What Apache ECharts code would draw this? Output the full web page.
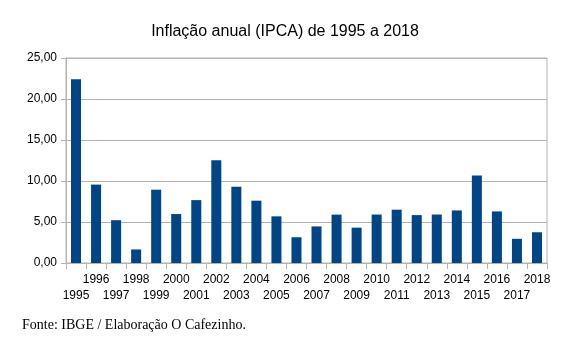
<!DOCTYPE html>
<html>
<head>
<meta charset="utf-8">
<script src="https://cdn.jsdelivr.net/npm/echarts@6/dist/echarts.min.js"></script>
<style>
  html, body { margin: 0; padding: 0; background: #fff; }
  #chart { width: 570px; height: 345px; }
</style>
</head>
<body>
<div id="chart"></div>
<script>
// Annual IPCA inflation (%), 1995–2018
const years = ['1995','1996','1997','1998','1999','2000','2001','2002','2003','2004','2005','2006',
               '2007','2008','2009','2010','2011','2012','2013','2014','2015','2016','2017','2018'];
const ipca = [22.41, 9.56, 5.22, 1.65, 8.94, 5.97, 7.67, 12.53, 9.30, 7.60, 5.69, 3.14,
              4.46, 5.90, 4.31, 5.91, 6.50, 5.84, 5.91, 6.41, 10.67, 6.29, 2.95, 3.75];
const yTicks = { min: 0, max: 25, step: 5 };

const titleText = 'Inflação anual (IPCA) de 1995 a 2018';
const sourceText = 'Fonte: IBGE / Elaboração O Cafezinho.';

const chart = echarts.init(document.getElementById('chart'), null, { renderer: 'canvas' });
const fmt = v => v.toFixed(2).replace('.', ',');

chart.setOption({
  animation: false,
  backgroundColor: '#fff',
  title: {
    text: titleText,
    left: 'center',
    top: 19,
    textStyle: { fontFamily: 'Liberation Sans, Arial, sans-serif', fontSize: 16, fontWeight: 'normal', color: '#000' }
  },
  grid: {
    left: 66, right: 23, top: 58, bottom: 82,
    show: true, borderColor: '#b3b3b3', borderWidth: 1
  },
  xAxis: {
    type: 'category',
    data: years,
    axisLine: { lineStyle: { color: '#b3b3b3' } },
    axisTick: { show: true, length: 6, alignWithLabel: false, lineStyle: { color: '#b3b3b3' } },
    axisLabel: {
      interval: 0,
      margin: 9,
      color: '#000',
      fontFamily: 'Liberation Sans, Arial, sans-serif',
      fontSize: 12,
      lineHeight: 16,
      formatter: (v, i) => (i % 2 === 0 ? '\n' + v : v)
    }
  },
  yAxis: {
    type: 'value',
    min: yTicks.min, max: yTicks.max, interval: yTicks.step,
    axisLine: { show: true, lineStyle: { color: '#b3b3b3' } },
    axisTick: { show: true, length: 5, lineStyle: { color: '#b3b3b3' } },
    splitLine: { lineStyle: { color: '#b3b3b3' } },
    axisLabel: {
      margin: 9,
      color: '#000',
      fontFamily: 'Liberation Sans, Arial, sans-serif',
      fontSize: 12,
      formatter: fmt
    }
  },
  series: [{
    type: 'bar',
    data: ipca,
    barWidth: '50%',
    itemStyle: { color: '#004586' }
  }],
  graphic: [{
    type: 'text',
    left: 22,
    top: 318,
    style: {
      text: sourceText,
      fill: '#000',
      font: '14px "Liberation Serif", "Times New Roman", serif'
    }
  }]
});
</script>
</body>
</html>
